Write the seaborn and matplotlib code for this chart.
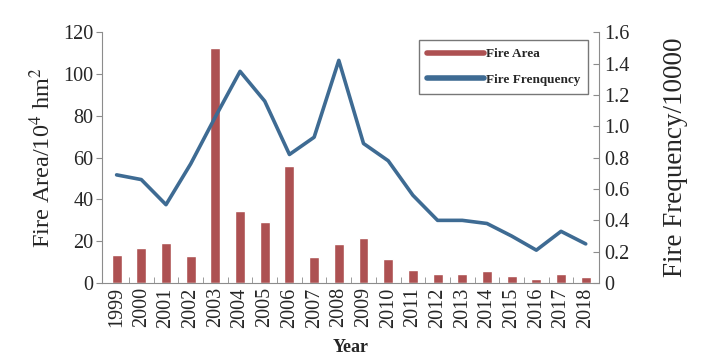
import numpy as np
import pandas as pd
import matplotlib
matplotlib.use("Agg")
import matplotlib.pyplot as plt
from matplotlib.lines import Line2D
from matplotlib.ticker import MultipleLocator, FixedLocator
import seaborn as sns

sns.set_style("white")
plt.rcParams['font.family'] = ['Liberation Serif', 'DejaVu Serif']
plt.rcParams['mathtext.fontset'] = 'stix'

years = [str(y) for y in range(1999, 2019)]
fire_area = [13.4, 16.9, 19.3, 13.1, 112.2, 34.4, 29.0, 56.1, 12.4, 18.5,
             21.4, 11.5, 6.3, 4.3, 4.3, 5.6, 3.2, 1.9, 4.3, 2.9]
fire_freq = [0.69, 0.66, 0.50, 0.76, 1.06, 1.35, 1.16, 0.82, 0.93, 1.42,
             0.89, 0.78, 0.56, 0.40, 0.40, 0.38, 0.30, 0.21, 0.33, 0.25]

df = pd.DataFrame({"year": years, "area": fire_area, "freq": fire_freq})

bar_color = "#AD5152"
line_color = "#3E6B93"
spine_color = "#8C8C8C"

fig = plt.figure(figsize=(7.02, 3.57), dpi=100)
ax = fig.add_axes([0.145, 0.207, 0.708, 0.703])

sns.barplot(data=df, x="year", y="area", color=bar_color, saturation=1,
            width=0.4, ax=ax)
ax2 = ax.twinx()
sns.lineplot(x=np.arange(len(years)), y=df["freq"], color=line_color,
             linewidth=2.6, ax=ax2)

ax.set_xlim(-0.6, 19.53)
ax.set_ylim(0, 120)
ax2.set_ylim(0, 1.6)
ax.yaxis.set_major_locator(MultipleLocator(20))
ax2.yaxis.set_major_locator(MultipleLocator(0.2))
ax2.set_yticklabels([f"{v:.1f}" if v > 0 else "0" for v in ax2.get_yticks()])

for a in (ax, ax2):
    a.spines['top'].set_visible(False)
    for s in ('left', 'right', 'bottom'):
        a.spines[s].set_color(spine_color)
ax2.spines['left'].set_visible(False)
ax2.spines['bottom'].set_visible(False)
ax.spines['right'].set_visible(False)

ax.tick_params(axis='y', direction='out', length=4, color=spine_color,
               labelsize=14.5, pad=2, left=True)
ax2.tick_params(axis='y', direction='in', length=4, color=spine_color,
                labelsize=14.5, pad=4, right=True)
ax.tick_params(axis='x', which='major', length=0, labelsize=14.5,
               rotation=90, pad=3)
ax.xaxis.set_minor_locator(FixedLocator(np.arange(len(years) - 1) + 0.5))
ax.tick_params(axis='x', which='minor', direction='in', length=4,
               color=spine_color, bottom=True)

ax.set_xlabel("Year", fontsize=13, fontweight='bold', labelpad=8)
ax.set_ylabel("Fire Area/10$^4$ hm$^2$", fontsize=17.5, labelpad=6)
ax2.set_ylabel("Fire Frequency/10000", fontsize=19.5, labelpad=24)

handles = [Line2D([], [], color=bar_color, linewidth=4),
           Line2D([], [], color=line_color, linewidth=4)]
leg = ax.legend(handles, ["Fire Area", "Fire Frenquency"], loc='upper left',
                bbox_to_anchor=(0.638, 0.968), frameon=True, fancybox=False,
                edgecolor="#555555", handlelength=4.3, handletextpad=0.15,
                borderpad=0.6, borderaxespad=0, labelspacing=1.0,
                prop={'weight': 'bold', 'size': 9.5})
leg.get_frame().set_linewidth(1.0)

plt.savefig("out.png", dpi=100)
